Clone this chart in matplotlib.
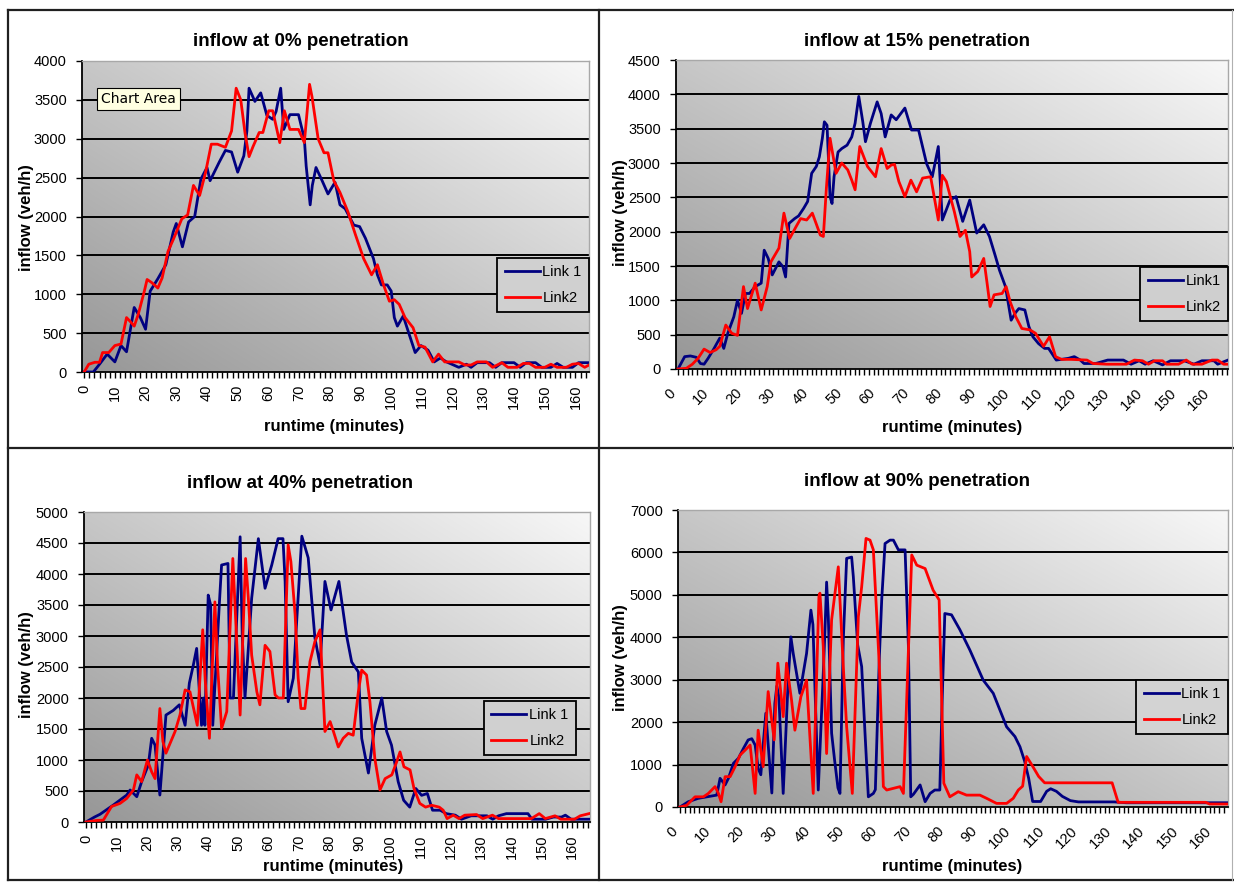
import numpy as np
import matplotlib
matplotlib.use("Agg")
import matplotlib.pyplot as plt
from matplotlib.lines import Line2D
from matplotlib.ticker import MultipleLocator, FixedLocator
from matplotlib.transforms import ScaledTranslation

plt.rcParams['font.family'] = ['Liberation Sans', 'DejaVu Sans']

# ---------------------------------------------------------------------------
# Inflow series (minute, veh/h) for each penetration scenario
# ---------------------------------------------------------------------------
PEN0_LINK1 = [(0,0),(3,0),(5,100),(7.5,230),(10,130),(12,340),(13.8,260),(16.3,830),(18.3,700),(20,550),
    (21.5,1040),(24,1200),(26.6,1380),(29,1800),(30,1910),(32,1610),(34,1930),(36,2000),(38,2480),(40,2630),
    (41,2460),(44,2700),(46,2850),(48,2830),(50,2570),(52,2780),(53,3100),(53.7,3650),(55.6,3480),(57.5,3590),
    (59.5,3300),(61.4,3250),(62.5,3350),(64,3650),(65,3120),(67,3310),(69.8,3310),(71.7,3000),(72.3,2650),(73.6,2150),
    (74.3,2400),(75.5,2630),(77.5,2460),(79.4,2290),(81.7,2440),(83.3,2150),(85,2100),(87.8,1890),(89.7,1870),(91.6,1720),
    (94.2,1460),(95.5,1250),(96.8,1120),(98.7,1120),(100,1040),(101,700),(102,590),(103.9,720),(105.8,490),(107.8,250),
    (109.7,340),(112,280),(114,130),(116,180),(118,130),(122,60),(124.5,100),(126,60),(128,120),(132,120),
    (134,60),(136,120),(140,120),(142,60),(144,120),(147,120),(149,60),(152,60),(154,110),(156,60),
    (159,60),(161,120),(164.4,120)]
PEN0_LINK2 = [(0,0),(1.5,100),(3.5,125),(5,125),(6,250),(8,250),(10,340),(12,360),(13.8,700),(15,650),
    (16.3,590),(17.6,740),(19.6,1040),(20.5,1190),(22,1150),(24,1080),(25.4,1210),(27.3,1550),(29.2,1720),(31.8,1970),
    (33.7,2020),(35.6,2400),(37.6,2270),(39.5,2560),(41.4,2930),(43.4,2930),(46,2890),(48,3100),(49.5,3650),(51,3500),
    (52.4,3070),(53.7,2770),(55,2900),(57,3080),(58.2,3080),(60.1,3360),(61.4,3360),(63.7,2950),(65.2,3360),(67,3120),
    (69.8,3120),(71.7,2950),(73.4,3700),(74.2,3540),(76.2,3000),(78.1,2820),(79.4,2820),(81.3,2460),(83.3,2310),(85.9,2060),
    (88.4,1760),(91,1460),(93.6,1250),(95.5,1380),(97.5,1120),(99.4,910),(101,930),(102.6,870),(104.5,700),(107.1,570),
    (109,340),(111,320),(113.5,130),(115.4,230),(117.4,130),(119,130),(122,130),(124,90),(126,90),(128,130),
    (131,130),(133,60),(136,120),(138,60),(141,60),(143,110),(145,110),(147,60),(150,60),(152,100),
    (154,60),(157,60),(159,100),(161,110),(163,60),(164.4,90)]

PEN15_LINK1 = [(0,0),(2,180),(3.7,190),(5.5,170),(6.7,80),(7.8,70),(9,155),(10.8,300),(12.5,450),(13.7,300),
    (14.9,520),(16.7,760),(17.8,1000),(19,810),(20.2,1100),(21.4,1100),(23.1,1200),(24.9,1250),(25.8,1730),(27,1610),
    (28.2,1370),(30.2,1560),(31.4,1490),(32.2,1340),(33.2,2120),(34.9,2190),(36.1,2230),(37.6,2340),(38.8,2440),(40,2850),
    (41.4,2950),(42.3,3090),(43.2,3360),(43.8,3600),(44.6,3550),(45.5,2510),(46.1,2410),(46.7,2800),(47.9,3160),(49,3210),
    (50.6,3260),(52,3380),(53,3580),(54.1,3970),(55.3,3600),(56.1,3310),(57.6,3580),(59.6,3890),(60.8,3720),(62,3380),
    (63.8,3700),(65.3,3630),(67.9,3800),(69.9,3480),(72,3480),(74.4,2990),(76.1,2800),(77.9,3240),(79.1,2170),(80.3,2320),
    (81.4,2460),(83.2,2510),(85.2,2150),(87.3,2460),(89.4,1980),(91.5,2100),(93.2,1930),(95,1640),(96.2,1440),(98,1200),
    (99.7,710),(101,820),(102,880),(103.8,860),(105,620),(106.2,470),(107.9,370),(109.7,300),(110.9,300),(113.2,130),
    (116.8,155),(118.6,180),(120.4,130),(121.5,80),(125,80),(128.6,130),(133.3,130),(135.6,70),(138,120),(139.8,70),
    (142.2,120),(145,60),(147.4,120),(151.5,120),(154.4,70),(156.8,120),(160.4,120),(161.5,70),(164.6,130)]
PEN15_LINK2 = [(0,0),(2.5,10),(4.3,70),(6,155),(7.8,290),(9.6,240),(11.4,280),(12.5,330),(14.3,640),(16.1,520),
    (17.8,490),(19.6,1200),(20.8,880),(23.1,1250),(24.9,860),(26.7,1200),(27.8,1560),(30.2,1760),(31.7,2270),(33.4,1900),
    (35.3,2070),(36.7,2190),(38.5,2170),(40.2,2270),(42.6,1950),(43.5,1930),(44.4,2630),(45.5,3360),(47.3,2850),(49,3000),
    (50.8,2900),(52,2750),(53,2610),(54.4,3240),(56.7,2950),(59.1,2800),(60.8,3210),(62.6,2920),(63.8,2970),(64.8,2980),
    (66.1,2730),(67.9,2510),(69.7,2750),(71.4,2580),(73.2,2780),(75.6,2800),(77.9,2170),(79.1,2820),(80.3,2730),(82.7,2290),
    (84.4,1930),(86,2020),(87.3,1710),(87.9,1340),(89.7,1420),(91.5,1610),(92.5,1250),(93.4,910),(94.6,1080),(97,1100),
    (98.2,1200),(99.4,980),(101.1,760),(102.9,590),(105.3,570),(107,520),(109.4,330),(111.2,470),(113,180),(114.8,140),
    (117.7,140),(122.4,130),(124.2,80),(128.3,70),(134.2,70),(136.6,130),(139,120),(140.8,70),(142.6,120),(145,120),
    (146.2,70),(149.8,70),(152.1,130),(153.9,70),(156.8,70),(159.8,130),(161.5,130),(163.3,70),(164.6,70)]

PEN40_LINK1 = [(0,0),(2.8,80),(4.6,124),(9,274),(13.4,435),(14.5,516),(16.7,408),(18.3,650),(20.5,920),(21.6,1350),
    (22.7,1240),(24.3,435),(26.3,1725),(28.7,1800),(30.7,1890),(32.6,1560),(34,2240),(35.3,2530),(36.4,2800),(38,1560),
    (38.6,2000),(39.1,1560),(40.2,3660),(41,3500),(41.7,1560),(43.9,3550),(44.6,4145),(46.7,4170),(47.4,2000),(48.5,2000),
    (50.7,4600),(51.4,3000),(52.3,2000),(54.5,3610),(56.7,4570),(58.9,3770),(61.1,4145),(63.2,4570),(64.8,4570),(65.5,3880),
    (66.5,1940),(68.2,2320),(69.3,3230),(71,4610),(73.1,4260),(75.3,2970),(77,2530),(78.6,3880),(80.6,3420),(83.2,3880),
    (85.7,3010),(87.4,2580),(89.6,2420),(90.7,1350),(92.9,790),(95,1560),(97.3,2000),(98.9,1460),(100.5,1240),(102.7,650),
    (104.5,350),(106.5,240),(108.5,540),(110.4,430),(112.3,460),(114,190),(116.5,190),(118.5,135),(121.5,110),(123.5,45),
    (126.7,100),(131.9,100),(133.8,45),(135.7,100),(138.3,135),(145.4,135),(146.7,45),(151.2,45),(153.8,80),(156.4,80),
    (157.7,110),(159.6,45),(165.5,45)]
PEN40_LINK2 = [(0,0),(3.5,25),(5.7,30),(8.4,250),(11.2,300),(13.4,380),(15.6,516),(16.7,760),(18.3,650),(20.2,1000),
    (21.6,810),(22.7,700),(24.3,1830),(25.3,1300),(26.3,1110),(29.3,1460),(30.9,1725),(32.6,2130),(34.2,2100),(36.6,1560),
    (38.4,3100),(39.2,2300),(40.6,1350),(42.4,3550),(43.3,2500),(44.6,1510),(46.3,1780),(48.3,4250),(49.3,3200),(50.7,1725),
    (52.5,4250),(53.4,3610),(54.5,2690),(56.2,2100),(57.2,1890),(58.9,2850),(60.5,2750),(62.2,2050),(63.3,2000),(64.9,2000),
    (66.5,4470),(67.4,4200),(68.8,3340),(69.8,2320),(70.7,1830),(72,1830),(73.7,2590),(75.3,2910),(77,3100),(78.6,1460),
    (80.3,1620),(81.4,1460),(83,1210),(84.6,1350),(86.3,1430),(87.9,1400),(89.6,2100),(90.7,2450),(92.3,2370),(93.4,1940),
    (95,1030),(96.7,516),(98.4,700),(100.6,760),(102.2,970),(103.3,1130),(104.6,890),(106.6,840),(107.9,540),(109.8,300),
    (111.7,240),(113.7,270),(116.2,240),(117.5,190),(118.8,55),(120.8,110),(122.7,55),(124.6,110),(128.5,120),(130.5,55),
    (133.7,110),(135.7,55),(146.5,55),(149.1,135),(151.1,55),(154.3,100),(156.2,45),(160.7,45),(162.6,100),(165.5,135)]

PEN90_LINK1 = [(0,0),(2.5,125),(5.5,205),(11,280),(12,676),(13.5,520),(14.5,676),(16,1030),(17.5,1150),(19,1380),
    (20.4,1580),(21.5,1610),(22.5,1460),(23.4,910),(24.2,760),(24.9,1460),(25.7,2210),(26.9,950),(27.5,330),(28.4,2440),
    (29,2850),(29.6,2600),(30.9,320),(32.4,2990),(33.2,4010),(33.9,3620),(34.9,3150),(35.9,2680),(36.9,3150),(37.9,3620),
    (39.2,4640),(39.8,4300),(40.4,2830),(41.4,400),(42.9,3150),(43.4,4130),(43.9,5300),(44.4,4500),(45.4,1740),(46.3,1100),
    (47.3,450),(47.9,320),(48.9,3940),(49.9,5860),(51.4,5890),(51.9,5430),(53.2,3820),(54.4,3310),(55.4,1740),(56.4,240),
    (57.9,320),(58.5,410),(59.7,3540),(60.4,4880),(61.4,6210),(62.9,6290),(63.9,6290),(65.4,6060),(67.4,6060),(68.4,3780),
    (69.1,240),(69.9,300),(71.9,520),(73.4,125),(74.9,320),(76.3,400),(77.8,400),(78.5,2500),(79.3,4560),(81.3,4530),
    (83.8,4180),(86.8,3700),(90.8,2990),(93.8,2680),(97.8,1890),(100.3,1660),(101.8,1420),(103.2,1080),(104.4,680),(105.6,130),
    (108,130),(109.8,370),(111,430),(112.7,370),(114.5,250),(116.9,150),(119.3,120),(130,120),(133.6,100),(164.1,100)]
PEN90_LINK2 = [(0,0),(2,40),(4.5,240),(7,240),(8.5,320),(10.5,480),(11.5,320),(12.3,125),(13.5,715),(15,715),
    (16.5,950),(18,1225),(19.5,1340),(21,1460),(22.5,320),(23.4,1810),(24.9,950),(26.4,2720),(28.2,1580),(29.3,3390),
    (30.9,2130),(31.9,3390),(33.4,2520),(34.4,1810),(36.2,2600),(37.9,2990),(39.9,320),(41.6,4960),(41.9,5040),(42.9,3780),
    (43.9,1260),(45.4,4410),(47.4,5660),(48.9,3310),(49.9,1890),(51.6,320),(53.4,4480),(54.4,5190),(55.7,6330),(56.9,6290),
    (57.9,6060),(59.7,3310),(60.9,480),(61.9,400),(65.9,480),(66.9,320),(69.4,5940),(70.9,5700),(73.4,5620),(75.8,5110),
    (77.6,4880),(79,560),(80.8,240),(83.3,360),(85.8,280),(89.8,280),(91.8,205),(94.8,85),(97.8,85),(99.8,205),
    (101.3,400),(102.6,490),(103.8,1190),(105.6,960),(107.4,720),(109.2,570),(111,570),(129.4,570),(131.2,110),(133.6,110),
    (157.4,110),(158.6,70),(164.1,70)]

TITLES = ["inflow at 0% penetration", "inflow at 15% penetration",
          "inflow at 40% penetration", "inflow at 90% penetration"]
LEGEND_NAMES = [("Link 1", "Link2"), ("Link1", "Link2"), ("Link 1", "Link2"), ("Link 1", "Link2")]
X_TICKS = list(range(0, 161, 10))
X_TICK_LABELS = [str(v) for v in X_TICKS]
X_LABEL = "runtime (minutes)"
Y_LABEL = "inflow (veh/h)"

# ---------------------------------------------------------------------------
FIG_W, FIG_H = 1234, 882
fig = plt.figure(figsize=(FIG_W / 100, FIG_H / 100), dpi=100)
fig.patch.set_facecolor("white")


def fx(x):
    return x / FIG_W


def fy(y):
    return 1 - y / FIG_H


def px_rect(l, t, r, b):
    return [fx(l), fy(b), (r - l) / FIG_W, (b - t) / FIG_H]


def shade_level(u, v):
    """Grey level of the diagonal plot-area fill (dark bottom-left, light top-right)."""
    return 0.59 + 0.38 * (u + v) / 2


BLUE = "#000080"
RED = "#ff0000"

panels = [
    dict(series=(PEN0_LINK1, PEN0_LINK2), rect=(82, 61, 589, 372), xlim=(-0.7, 164.4),
         ymax=4000, ystep=500, rot=90, minor=10 / 6,
         title_xy=(301, 41), xlabel_xy=(334, 426), ylabel_xy=(26, 218),
         legend=(1.0, 0.367)),
    dict(series=(PEN15_LINK1, PEN15_LINK2), rect=(676, 60, 1228, 369), xlim=(-0.6, 164.6),
         ymax=4500, ystep=500, rot=45, minor=10 / 7,
         title_xy=(917, 42), xlabel_xy=(952, 427), ylabel_xy=(620, 213),
         legend=(1.0, 0.33)),
    dict(series=(PEN40_LINK1, PEN40_LINK2), rect=(84, 512, 590, 822), xlim=(-0.66, 165.8),
         ymax=5000, ystep=500, rot=90, minor=10 / 6,
         title_xy=(300, 483), xlabel_xy=(333, 867), ylabel_xy=(26, 665),
         legend=(0.972, 0.39)),
    dict(series=(PEN90_LINK1, PEN90_LINK2), rect=(678, 510, 1228, 807), xlim=(-0.6, 164.1),
         ymax=7000, ystep=1000, rot=45, minor=10 / 7,
         title_xy=(917, 482), xlabel_xy=(952, 867), ylabel_xy=(620, 658),
         legend=(1.0, 0.428)),
]

n = 256
uu, vv = np.meshgrid(np.linspace(0, 1, n), np.linspace(0, 1, n))
grey = shade_level(uu, vv)
shade_img = np.dstack([grey, grey, grey])

for i, p in enumerate(panels):
    ax = fig.add_axes(px_rect(*p["rect"]))
    ax.set_facecolor("none")
    ax.imshow(shade_img, extent=[0, 1, 0, 1], transform=ax.transAxes, origin="lower",
              aspect="auto", zorder=0, interpolation="bilinear")

    # horizontal gridlines
    for yv in np.arange(p["ystep"], p["ymax"], p["ystep"]):
        ax.axhline(yv, color="black", lw=1.4, zorder=1)

    (s1, s2) = p["series"]
    t1, v1 = np.array(s1).T
    t2, v2 = np.array(s2).T
    n1, n2 = LEGEND_NAMES[i]
    h1, = ax.plot(t1, v1, color=BLUE, lw=2.0, zorder=3, label=n1)
    h2, = ax.plot(t2, v2, color=RED, lw=2.0, zorder=4, label=n2)

    ax.set_xlim(*p["xlim"])
    ax.set_ylim(0, p["ymax"])

    ax.yaxis.set_major_locator(MultipleLocator(p["ystep"]))
    ax.tick_params(axis="y", direction="out", length=4, width=1, pad=7, labelsize=10.5,
                   colors="black")
    ax.xaxis.set_major_locator(FixedLocator(X_TICKS))
    ax.xaxis.set_minor_locator(MultipleLocator(p["minor"]))
    ax.tick_params(axis="x", which="both", direction="out", length=4, width=1, colors="black")
    if p["rot"] == 90:
        ax.set_xticklabels(X_TICK_LABELS, rotation=90, ha="center", va="top", fontsize=10.5)
        ax.tick_params(axis="x", which="major", pad=5)
    else:
        ax.set_xticklabels(X_TICK_LABELS, rotation=45, ha="right", va="center",
                           rotation_mode="anchor", fontsize=10.5)
        ax.tick_params(axis="x", which="major", pad=9)
        shift = ScaledTranslation(-0.05, -0.04, fig.dpi_scale_trans)
        for lab in ax.get_xticklabels():
            lab.set_transform(lab.get_transform() + shift)

    for side in ("left", "bottom"):
        ax.spines[side].set_color("black")
        ax.spines[side].set_linewidth(1.3)
    for side in ("top", "right"):
        ax.spines[side].set_color("#a8a8a8")
        ax.spines[side].set_linewidth(1.0)

    lx, ly = p["legend"]
    fill = shade_level(lx - 0.08, ly - 0.09)
    leg = ax.legend(handles=[h1, h2], loc="upper right", bbox_to_anchor=(lx, ly),
                    bbox_transform=ax.transAxes, borderaxespad=0, fancybox=False,
                    edgecolor="black", facecolor=(fill, fill, fill), framealpha=1,
                    fontsize=10.5, handlelength=2.4, handletextpad=0.2,
                    labelspacing=0.8, borderpad=0.5)
    leg.get_frame().set_linewidth(1.3)
    leg.set_zorder(6)

    fig.text(fx(p["title_xy"][0]), fy(p["title_xy"][1]), TITLES[i], ha="center", va="center",
             fontsize=13.5, fontweight="bold")
    fig.text(fx(p["xlabel_xy"][0]), fy(p["xlabel_xy"][1]), X_LABEL, ha="center", va="center",
             fontsize=12, fontweight="bold")
    fig.text(fx(p["ylabel_xy"][0]), fy(p["ylabel_xy"][1]), Y_LABEL, ha="center", va="center",
             fontsize=12, fontweight="bold", rotation=90)

# Excel "Chart Area" tooltip over the first chart
fig.text(fx(138.5), fy(99), "Chart Area", ha="center", va="center", fontsize=10,
         family="DejaVu Sans",
         bbox=dict(boxstyle="square,pad=0.3", fc="#ffffe1", ec="black", lw=0.8))

# frames around the four chart objects
frame_kw = dict(color="#202020", lw=1.6, transform=fig.transFigure, zorder=10)
for (x0, y0, x1, y1) in [(8, 10, 1234, 10), (8, 10, 8, 880), (599, 10, 599, 880),
                         (8, 448, 1234, 448), (8, 880, 1234, 880)]:
    fig.add_artist(Line2D([fx(x0), fx(x1)], [fy(y0), fy(y1)], **frame_kw))
fig.add_artist(Line2D([fx(1232), fx(1232)], [fy(10), fy(880)], color="#b0b0b0", lw=0.8,
                      transform=fig.transFigure, zorder=10))

fig.savefig("out.png", dpi=100)
